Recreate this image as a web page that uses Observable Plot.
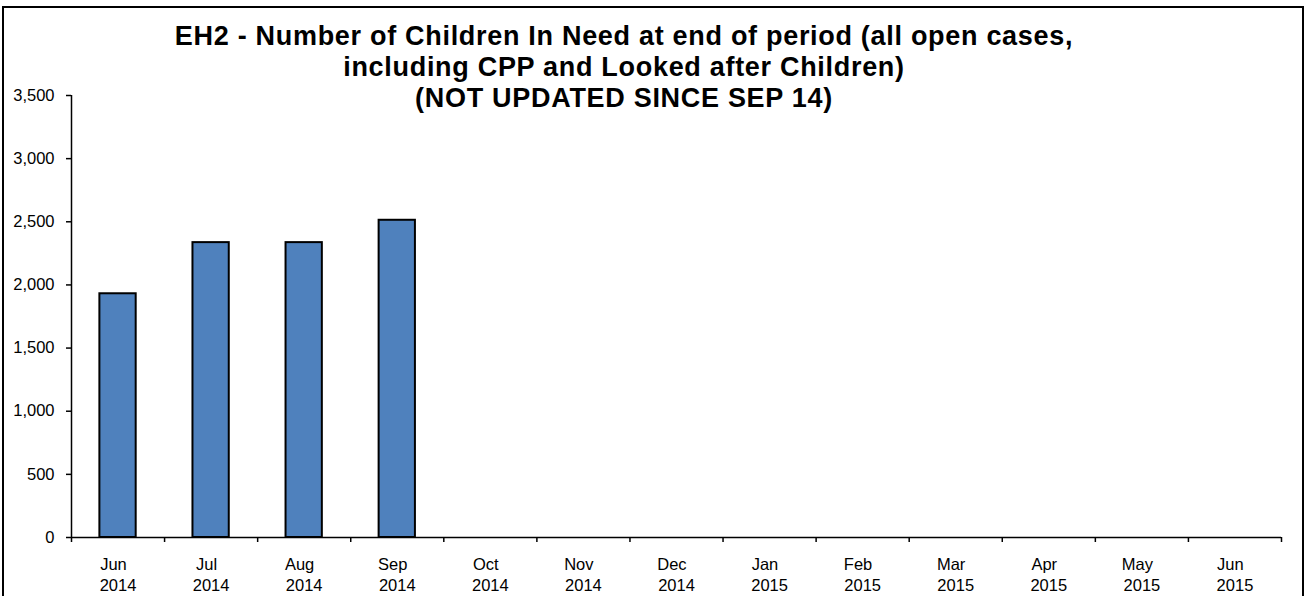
<!DOCTYPE html>
<html>
<head>
<meta charset="utf-8">
<script src="https://cdn.jsdelivr.net/npm/d3@7"></script>
<script src="https://cdn.jsdelivr.net/npm/@observablehq/plot@0.6"></script>
<style>
  html, body { margin: 0; padding: 0; background: #fff; }
  #wrap { position: relative; width: 1306px; height: 596px; overflow: hidden; font-family: Arial, "Liberation Sans", sans-serif; }
  #frame { position: absolute; left: 2px; top: 6px; width: 1298px; height: 620px; border: 2px solid #000; box-sizing: content-box; pointer-events: none; }
  #title { position: absolute; left: 0; top: 21px; width: 1248px; text-align: center; font-weight: bold; font-size: 27px; letter-spacing: 0.7px; line-height: 31px; color: #000; }
  #chart { position: absolute; left: 0; top: 0; }
</style>
</head>
<body>
<div id="wrap">
  <div id="chart"></div>
  <div id="title">EH2 - Number of Children In Need at end of period (all open cases,<br>including CPP and Looked after Children)<br>(NOT UPDATED SINCE SEP 14)</div>
  <div id="frame"></div>
</div>
<script>
const months = ["Jun","Jul","Aug","Sep","Oct","Nov","Dec","Jan","Feb","Mar","Apr","May","Jun"];
const years  = ["2014","2014","2014","2014","2014","2014","2014","2015","2015","2015","2015","2015","2015"];
const values = [1930, 2335, 2335, 2512, null, null, null, null, null, null, null, null, null];
const yTicks = [0, 500, 1000, 1500, 2000, 2500, 3000, 3500];

const data = months.map((m, i) => ({i, label: m + "\u00a0\u00a0\n" + years[i], value: values[i]}));
const bars = data.filter(d => d.value != null);
const halfBar = 0.195;

const chart = Plot.plot({
  width: 1306,
  height: 596,
  marginLeft: 71,
  marginRight: 25,
  marginTop: 95,
  marginBottom: 59,
  style: {fontFamily: "Arial, 'Liberation Sans', sans-serif", fontSize: "16.5px", color: "#000", background: "transparent"},
  x: {type: "linear", domain: [0, months.length], axis: null},
  y: {domain: [0, 3500], axis: null},
  marks: [
    Plot.rectY(bars, {x1: d => d.i + 0.5 - halfBar, x2: d => d.i + 0.5 + halfBar, y: "value", fill: "#4f81bd", stroke: "#000", strokeWidth: 2}),
    Plot.axisY({ticks: yTicks, tickFormat: d3.format(","), tickSize: 5, tickPadding: 12, stroke: "#000", strokeWidth: 1.5, fontSize: 16.5, label: null}),
    Plot.ruleX([0], {stroke: "#000", strokeWidth: 1.5}),
    Plot.ruleY([0], {stroke: "#000", strokeWidth: 1.5}),
    Plot.axisX({ticks: d3.range(0, months.length + 1), tickFormat: () => "", tickSize: 5, stroke: "#000", strokeWidth: 1.5, label: null}),
    Plot.axisX({ticks: data.map(d => d.i + 0.5), tickFormat: d => data[Math.floor(d)].label, tickSize: 0, tickPadding: 18, fontSize: 16.5, lineHeight: 1.25, label: null})
  ]
});
document.getElementById("chart").appendChild(chart);
</script>
</body>
</html>
